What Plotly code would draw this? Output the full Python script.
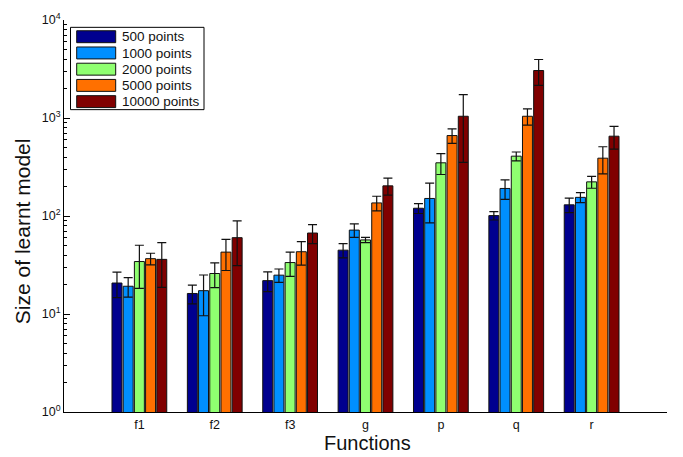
import plotly.graph_objects as go

# Model size per test function, for each training-set size
functions = ["f1", "f2", "f3", "g", "p", "q", "r"]
series_names = ["500 points", "1000 points", "2000 points", "5000 points", "10000 points"]
series_colors = ["#00008F", "#008FFF", "#8FFF70", "#FF7000", "#800000"]

mean_500 = [20.7, 16.2, 21.9, 44.8, 120, 101, 130]
mean_1000 = [19.2, 17.3, 24.9, 71.8, 151, 191, 155]
mean_2000 = [34.3, 25.9, 33.5, 57, 349, 408, 223]
mean_5000 = [36.7, 42.8, 43.2, 136, 662, 1042, 389]
mean_10000 = [36.1, 60.1, 67, 203, 1042, 3051, 652]

err_500 = [6, 3.5, 5, 7.5, 14, 10, 22]
err_1000 = [4.3, 7.7, 3.9, 11.4, 66, 43, 18]
err_2000 = [16, 7.3, 9.3, 3.6, 84, 42, 31]
err_5000 = [5, 15, 11.6, 23, 111, 195, 120]
err_10000 = [17.4, 29, 14.8, 40, 690, 900, 170]

means = [mean_500, mean_1000, mean_2000, mean_5000, mean_10000]
errors = [err_500, err_1000, err_2000, err_5000, err_10000]

y_tick_vals = [1, 10, 100, 1000, 10000]
y_tick_text = ["10<sup>0</sup>", "10<sup>1</sup>", "10<sup>2</sup>", "10<sup>3</sup>", "10<sup>4</sup>"]

FONT = "Liberation Sans, Arial, Helvetica, sans-serif"
W, H = 683, 457
ML, MR, MT, MB = 64, 16, 11, 45
PW, PH = W - ML - MR, H - MT - MB


def px_x(px):
    return (px - ML) / PW


def px_y(py):
    return (H - MB - py) / PH


fig = go.Figure()
for name, color, m, e in zip(series_names, series_colors, means, errors):
    fig.add_trace(go.Bar(
        x=functions, y=m, name=name,
        marker=dict(color=color, line=dict(color="#111111", width=1)),
        error_y=dict(type="data", array=e, visible=True,
                     color="#111111", thickness=1.2, width=4.5),
        showlegend=False,
    ))

# boxed legend with wide colour keys
shapes = [dict(type="rect", xref="paper", yref="paper",
               x0=px_x(70.5), x1=px_x(204), y0=px_y(102.7), y1=px_y(18.5),
               line=dict(color="black", width=1), fillcolor="white", layer="above")]
annotations = []
row_top = 22.0
row_pitch = 16.6
for i, (name, color) in enumerate(zip(series_names, series_colors)):
    top = row_top + i * row_pitch
    shapes.append(dict(type="rect", xref="paper", yref="paper",
                       x0=px_x(76.7), x1=px_x(115.7),
                       y0=px_y(top + 12.2), y1=px_y(top),
                       line=dict(color="#111111", width=1), fillcolor=color,
                       layer="above"))
    annotations.append(dict(text=name, xref="paper", yref="paper",
                            x=px_x(119.5), y=px_y(top + 6.2),
                            xanchor="left", yanchor="middle", showarrow=False,
                            font=dict(family=FONT, size=13.5, color="#111111")))

annotations.append(dict(text="Size of learnt model", xref="paper", yref="paper",
                        x=px_x(22), y=px_y(227), textangle=-90,
                        xanchor="center", yanchor="middle", showarrow=False,
                        font=dict(family=FONT, size=21, color="#111111")))
annotations.append(dict(text="Functions", xref="paper", yref="paper",
                        x=px_x(367.6), y=px_y(444),
                        xanchor="center", yanchor="middle", showarrow=False,
                        font=dict(family=FONT, size=20, color="#111111")))

minor_vals = [k * 10 ** n for n in range(4) for k in range(2, 10)]

fig.update_layout(
    width=W, height=H,
    margin=dict(l=ML, r=MR, t=MT, b=MB, pad=0),
    paper_bgcolor="white", plot_bgcolor="white",
    barmode="group", bargap=0.257, bargroupgap=0.11,
    font=dict(family=FONT, color="#111111"),
    shapes=shapes, annotations=annotations,
    xaxis=dict(type="category", range=[-1, 7], showline=True, linecolor="black",
               linewidth=1, ticks="outside", ticklen=1, tickcolor="rgba(0,0,0,0)",
               showgrid=False, zeroline=False,
               tickfont=dict(family=FONT, size=12.5, color="#111111")),
    yaxis=dict(type="log", range=[0, 4], showline=True, linecolor="black",
               linewidth=1, ticks="inside", ticklen=6, tickcolor="black",
               tickvals=y_tick_vals, ticktext=y_tick_text,
               showgrid=False, zeroline=False,
               tickfont=dict(family=FONT, size=12.5, color="#111111"),
               minor=dict(tickvals=minor_vals, ticks="inside", ticklen=3,
                          tickcolor="black", showgrid=False)),
)

fig.write_html("out.html")
